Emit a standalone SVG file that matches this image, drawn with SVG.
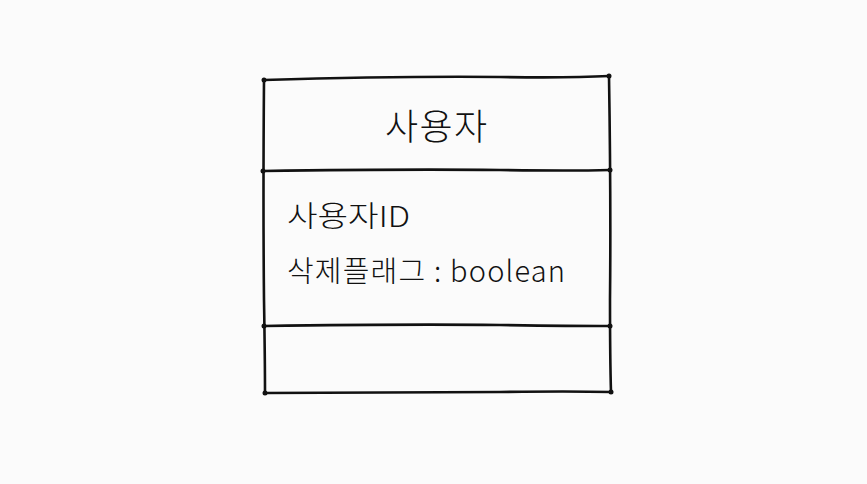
<svg xmlns="http://www.w3.org/2000/svg" width="867" height="484" viewBox="0 0 867 484">
<style>
.ln{fill:none;stroke:#111;stroke-width:2.6;stroke-linecap:round;stroke-linejoin:round}
.dot{fill:#111}
.t{font-family:"Noto Sans CJK KR","Noto Sans",sans-serif;fill:#111;font-weight:300}
</style>
<rect width="867" height="484" fill="#fbfbfb"/>
<g id="class-user">
<path class="ln" d="M264,80 Q400,76 500,77 Q570,78 609,76"/>
<path class="ln" d="M264,80 Q263,200 264,300 Q265,360 265,393"/>
<path class="ln" d="M609,76 Q611,200 610,300 Q610,360 611,392"/>
<path class="ln" d="M263,171 Q400,169 500,170 Q570,171 610,170"/>
<path class="ln" d="M264,326 Q400,324 500,325 Q570,326 610,326"/>
<path class="ln" d="M265,393 Q400,392 500,392 Q570,391 611,392"/>
<circle class="dot" cx="264" cy="80" r="2.5"/><circle class="dot" cx="609" cy="76" r="2.5"/>
<circle class="dot" cx="263" cy="171" r="2.5"/><circle class="dot" cx="610" cy="170" r="2.5"/>
<circle class="dot" cx="264" cy="326" r="2.5"/><circle class="dot" cx="610" cy="326" r="2.5"/>
<circle class="dot" cx="265" cy="393" r="2.5"/><circle class="dot" cx="611" cy="392" r="2.5"/>
<text class="t" x="436" y="140" font-size="36" text-anchor="middle" textLength="102" lengthAdjust="spacing">사용자</text>
<text class="t" x="287" y="227" font-size="29" textLength="123" lengthAdjust="spacingAndGlyphs">사용자ID</text>
<text class="t" x="287" y="282" font-size="29" textLength="278" lengthAdjust="spacing">삭제플래그 : boolean</text>
</g>
<g id="connectors"></g>
</svg>
